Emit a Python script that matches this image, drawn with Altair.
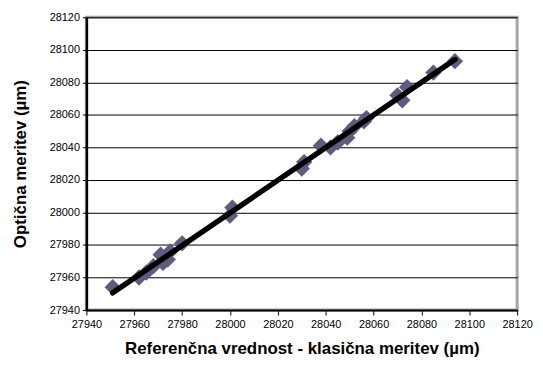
import altair as alt
import pandas as pd

x_ref = [27951, 27962, 27965, 27968, 27971, 27972, 27974, 27975, 27980, 28000, 28001,
         28030, 28031, 28038, 28042, 28045, 28049, 28050, 28052, 28056, 28057, 28070,
         28072, 28074, 28085, 28094]
y_opt = [27954, 27960, 27963, 27967, 27974, 27969, 27971, 27976, 27981, 27998, 28003,
         28027, 28031, 28041, 28040, 28043, 28046, 28050, 28053, 28056, 28058, 28072,
         28069, 28077, 28086, 28093]
ticks = [27940, 27960, 27980, 28000, 28020, 28040, 28060, 28080, 28100, 28120]

df = pd.DataFrame({"x": x_ref, "y": y_opt})

FONT = "Liberation Sans"

xenc = alt.X("x:Q", scale=alt.Scale(domain=[27940, 28120], nice=False, zero=False),
             axis=alt.Axis(values=ticks, tickCount=10, format="d", grid=False,
                           title="Referenčna vrednost - klasična meritev (µm)",
                           domainColor="black", domainWidth=2, tickColor="black",
                           tickSize=5, labelPadding=4, titlePadding=11,
                           labelOverlap=False, labelFlush=False))
yenc = alt.Y("y:Q", scale=alt.Scale(domain=[27940, 28120], nice=False, zero=False),
             axis=alt.Axis(values=ticks, tickCount=10, format="d", grid=True, gridColor="black",
                           gridWidth=1, gridOpacity=1,
                           title="Optična meritev (µm)",
                           domainColor="black", domainWidth=2.5, tickColor="black",
                           tickSize=4, labelPadding=3, titlePadding=20,
                           labelOverlap=False, labelFlush=False))

points = alt.Chart(df).mark_point(shape="diamond", filled=True, size=270,
                                  color="#625a7e", opacity=1).encode(x=xenc, y=yenc)

line = alt.Chart(df).transform_regression("x", "y").mark_line(
    color="black", strokeWidth=5.5, strokeCap="round").encode(x=xenc, y=yenc)

chart = (points + line).properties(
    width=434, height=295,
    autosize=alt.AutoSizeParams(type="none"),
    padding={"left": 79, "top": 8, "right": 18, "bottom": 50},
).configure_view(
    stroke="#a6a6a6", strokeWidth=3
).configure_axis(
    labelFont=FONT, labelFontSize=11, labelColor="black",
    titleFont=FONT, titleFontSize=17, titleFontWeight="bold", titleColor="black",
    tickWidth=1, labelOverlap=False
)

chart.save("out.html", embed_options={"renderer": "svg", "actions": False})
